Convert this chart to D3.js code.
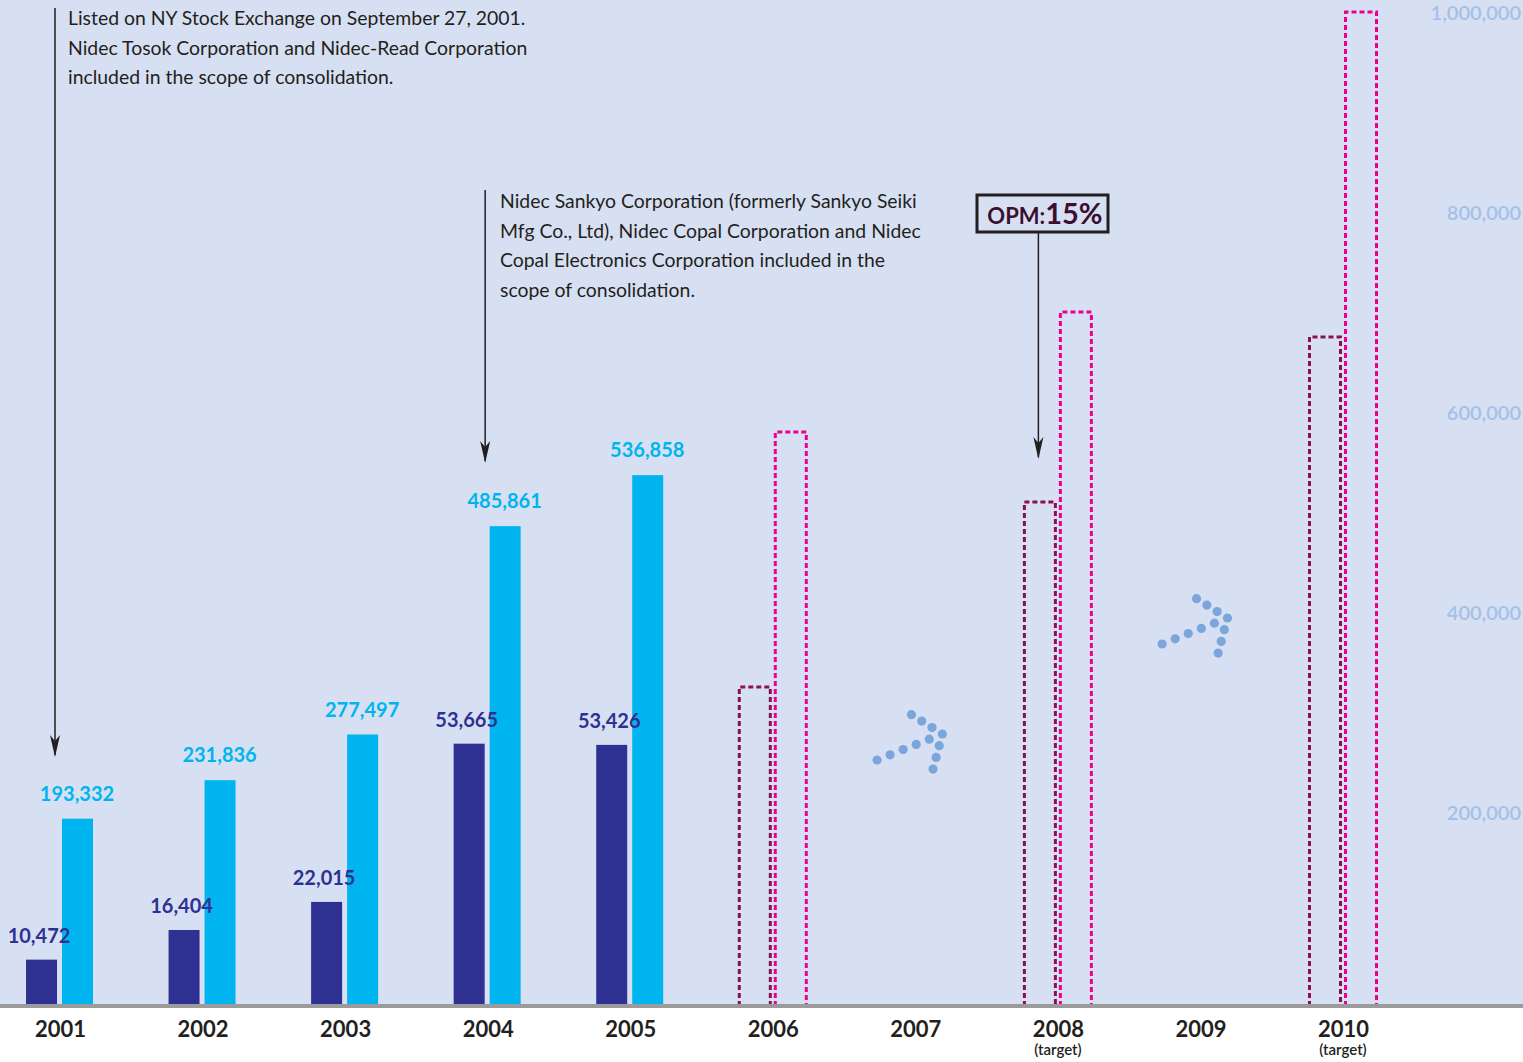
<!DOCTYPE html>
<html><head><meta charset="utf-8">
<script src="https://cdn.jsdelivr.net/npm/d3@7"></script>
<style>
html,body{margin:0;padding:0;background:#fff;}
svg{display:block;font-family:Lato,"Noto Sans",sans-serif;}
</style></head>
<body>
<svg id="chart" width="1523" height="1062"></svg>
<script>
// ---- data ----
const years = ["2001","2002","2003","2004","2005","2006","2007","2008","2009","2010"];
const yearNotes = ["","","","","","","","(target)","","(target)"];
const operatingIncome = [10472, 16404, 22015, 53665, 53426];
const netSales = [193332, 231836, 277497, 485861, 536858];
const targetYears = ["2006","2008","2010"];
const operatingIncomeTarget = [65000, 102000, 135000];
const netSalesTarget = [580000, 700000, 1000000];
const salesTicks = [200000, 400000, 600000, 800000, 1000000];
const growthArrowYears = ["2007","2009"];
const growthArrowLevels = [278000, 394000];
const notes = [
  {year:"2001", lines:["Listed on NY Stock Exchange on September 27, 2001.","Nidec Tosok Corporation and Nidec-Read Corporation","included in the scope of consolidation."]},
  {year:"2004", lines:["Nidec Sankyo Corporation (formerly Sankyo Seiki","Mfg Co., Ltd), Nidec Copal Corporation and Nidec","Copal Electronics Corporation included in the","scope of consolidation."]}
];
const opmLabel = ["OPM:", "15%"];

// ---- chart ----
const W = 1523, H = 1062;
const svg = d3.select("#chart");
const x = d3.scalePoint().domain(years).range([60, 1343]);
const ySales = d3.scaleLinear().domain([0, 1000000]).range([1012, 12]);
const yOI = d3.scaleLinear().domain([0, 200000]).range([1012, 12]);
const barW = 31;

svg.append("rect").attr("width", W).attr("height", 1006).attr("fill", "#d7e0f2");

const C = {dark:"#2e3192", light:"#00b5ef", pink:"#ec008c", maroon:"#8c0f52", axis:"#a3c1e8"};

// right axis
const ra = svg.append("g").attr("transform", "translate(1521,0)")
  .call(d3.axisLeft(ySales).tickValues(salesTicks).tickSize(0).tickPadding(0).tickFormat(d3.format(",")));
ra.select(".domain").remove();
ra.selectAll("text").attr("fill", C.axis).attr("font-size", 20).attr("font-weight", 600)
  .attr("font-family", "Lato, sans-serif").attr("dy", "0.35em");

// actual bars
const g = svg.append("g");
g.selectAll(".oi").data(operatingIncome).join("rect")
  .attr("x", (d,i) => x(years[i]) - 34).attr("width", barW)
  .attr("y", d => yOI(d)).attr("height", d => yOI(0) - yOI(d)).attr("fill", C.dark);
g.selectAll(".ns").data(netSales).join("rect")
  .attr("x", (d,i) => x(years[i]) + 2).attr("width", barW)
  .attr("y", d => ySales(d)).attr("height", d => ySales(0) - ySales(d)).attr("fill", C.light);

// labels
g.selectAll(".oil").data(operatingIncome).join("text")
  .attr("x", (d,i) => x(years[i]) - 21).attr("y", d => yOI(d) - 17)
  .attr("text-anchor", "middle").attr("fill", C.dark).attr("font-size", 20).attr("font-weight", 700)
  .text(d => d3.format(",")(d));
g.selectAll(".nsl").data(netSales).join("text")
  .attr("x", (d,i) => x(years[i]) + 17).attr("y", d => ySales(d) - 18)
  .attr("text-anchor", "middle").attr("fill", C.light).attr("font-size", 20).attr("font-weight", 700)
  .text(d => d3.format(",")(d));

// target dashed bars (open at bottom)
function openRect(x0, y0, y1) {
  return `M${x0},${y1}V${y0}H${x0 + barW}V${y1}`;
}
g.selectAll(".oit").data(operatingIncomeTarget).join("path")
  .attr("d", (d,i) => openRect(x(targetYears[i]) - 33.5, yOI(d), 1006))
  .attr("fill", "none").attr("stroke", C.maroon).attr("stroke-width", 3).attr("stroke-dasharray", "5,3");
g.selectAll(".nst").data(netSalesTarget).join("path")
  .attr("d", (d,i) => openRect(x(targetYears[i]) + 2.5, ySales(d), 1006))
  .attr("fill", "none").attr("stroke", C.pink).attr("stroke-width", 3).attr("stroke-dasharray", "5,3");

// growth dotted arrows
growthArrowYears.forEach((yr, k) => {
  const tx = x(yr) + 27, ty = ySales(growthArrowLevels[k]);
  const pts = [];
  for (let i = 0; i <= 5; i++) pts.push([tx - 13.06 * i, ty + 5.2 * i]);
  for (let i = 1; i <= 3; i++) pts.push([tx - 10.3 * i, ty - 6.45 * i]);
  for (let i = 1; i <= 3; i++) pts.push([tx - 3.1 * i, ty + 11.7 * i]);
  g.selectAll(null).data(pts).join("circle")
    .attr("cx", d => d[0]).attr("cy", d => d[1]).attr("r", 4.6).attr("fill", "#7aa6dc");
});

// white base area, axis line + year labels
svg.append("rect").attr("x", 0).attr("y", 1006).attr("width", W).attr("height", H - 1006).attr("fill", "#fff");
svg.append("rect").attr("x", 0).attr("y", 1004).attr("width", W).attr("height", 4).attr("fill", "#9b9b9b");
const xa = svg.append("g").attr("transform", "translate(0,1008)")
  .call(d3.axisBottom(x).tickSize(0).tickPadding(0));
xa.select(".domain").remove();
xa.selectAll("text").attr("y", 29).attr("dy", 0).attr("fill", "#231f20")
  .attr("font-size", 22).attr("font-weight", 700).attr("font-family", "Lato, sans-serif");
svg.selectAll(".yn").data(yearNotes).join("text")
  .attr("x", (d,i) => x(years[i])).attr("y", 1055).attr("text-anchor", "middle")
  .attr("fill", "#231f20").attr("font-size", 15).attr("font-weight", 600).text(d => d);

// annotation arrows
function vArrow(xp, y0, y1) {
  svg.append("line").attr("x1", xp).attr("x2", xp).attr("y1", y0).attr("y2", y1 - 2)
    .attr("stroke", "#231f20").attr("stroke-width", 1.5);
  svg.append("path").attr("d", `M${xp-5},${y1-22}L${xp},${y1}L${xp+5},${y1-22}L${xp},${y1-16}Z`).attr("fill", "#231f20");
}
vArrow(x("2001") - 5, 8, ySales(255000));
vArrow(x("2004") - 2.5, 190, ySales(549000));
vArrow(x("2008") - 19.5, 233, ySales(553000));

// note texts
const noteX = [68, 500], noteY = [25, 208];
notes.forEach((n, k) => {
  const t = svg.append("text").attr("x", noteX[k]).attr("y", noteY[k]).attr("fill", "#231f20")
    .attr("font-size", 19.4);
  n.lines.forEach((l, i) => t.append("tspan").attr("x", noteX[k]).attr("dy", i ? 29.5 : 0).text(l));
});

// OPM box
svg.append("rect").attr("x", 977).attr("y", 195).attr("width", 131).attr("height", 37)
  .attr("fill", "none").attr("stroke", "#231f20").attr("stroke-width", 3);
const ot = svg.append("text").attr("x", 1045).attr("y", 224).attr("text-anchor", "middle")
  .attr("fill", "#3b0f30").attr("font-weight", 700);
ot.append("tspan").attr("font-size", 22).text(opmLabel[0]);
ot.append("tspan").attr("font-size", 29).text(opmLabel[1]);
</script>
</body></html>
